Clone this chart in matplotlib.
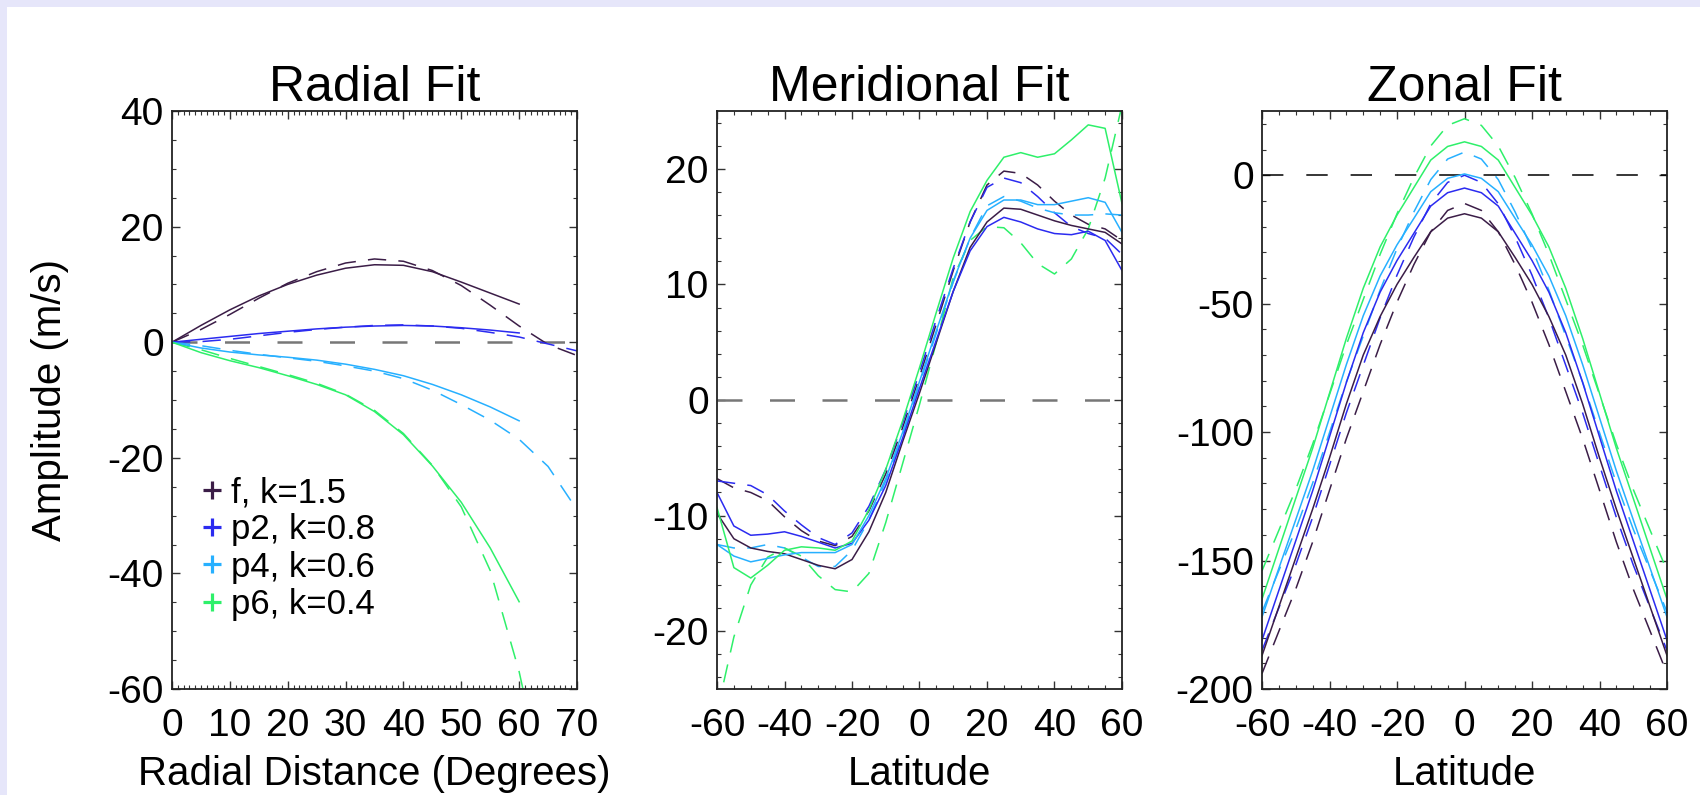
import numpy as np
import matplotlib
matplotlib.use("Agg")
import matplotlib.pyplot as plt
from matplotlib.lines import Line2D
from matplotlib.patches import Rectangle
from matplotlib.ticker import MultipleLocator

plt.rcParams["font.family"] = ["Liberation Sans", "DejaVu Sans"]
plt.rcParams["axes.unicode_minus"] = False

# --- data ------------------------------------------------------------------
mode_labels = ["f, k=1.5", "p2, k=0.8", "p4, k=0.6", "p6, k=0.4"]
mode_colors = ["#3b1d47", "#2b2bf0", "#27b0ff", "#2ef06a"]

# Radial fit: solid to 60 deg, dashed to 70 deg
rad_deg = [0, 5, 10, 15, 20, 25, 30, 35, 40, 45, 50, 55, 60]
rad_deg_ext = [0, 5, 10, 15, 20, 25, 30, 35, 40, 45, 50, 55, 60, 65, 70]
rad_f_solid = [0, 2.9, 5.6, 8.0, 10.0, 11.6, 12.8, 13.4, 13.3, 12.2, 10.4, 8.5, 6.6]
rad_p2_solid = [0, 0.5, 1.0, 1.5, 1.9, 2.3, 2.6, 2.8, 2.9, 2.8, 2.5, 2.1, 1.6]
rad_p4_solid = [0, -1.0, -1.7, -2.2, -2.6, -3.1, -3.8, -4.7, -5.8, -7.3, -9.1, -11.2, -13.6]
rad_p6_solid = [0, -1.8, -3.2, -4.4, -5.8, -7.3, -9.1, -12.0, -16.0, -21.4, -27.7, -35.6, -44.9]
rad_f_dashed = [0, 2.2, 4.8, 7.6, 10.2, 12.2, 13.7, 14.4, 14.0, 12.4, 9.8, 6.4, 2.8, -0.4, -2.3]
rad_p2_dashed = [0, 0.1, 0.5, 1.1, 1.7, 2.2, 2.6, 2.9, 3.0, 2.8, 2.4, 1.7, 0.9, -0.3, -1.5]
rad_p4_dashed = [0, -0.6, -1.4, -2.1, -2.7, -3.3, -4.1, -5.0, -6.3, -8.3, -10.8, -13.5, -16.8, -21.5, -29.0]
rad_p6_dashed = [0, -1.3, -2.8, -4.2, -5.6, -7.1, -9.0, -11.8, -15.8, -21.3, -28.5, -39.5, -57.0, -80.0, np.nan]

# Meridional fit
lat = [-60, -55, -50, -45, -40, -35, -30, -25, -20, -15, -10, -5, 0,
       5, 10, 15, 20, 25, 30, 35, 40, 45, 50, 55, 60]
mer_f_solid = [-9.8, -12.0, -12.8, -13.1, -13.3, -13.8, -14.3, -14.6, -13.8, -11.4, -8.0, -3.6, 0.6,
               5.0, 9.4, 13.2, 15.4, 16.6, 16.5, 16.0, 15.5, 15.1, 14.8, 14.5, 13.5]
mer_p2_solid = [-8.0, -10.9, -11.7, -11.6, -11.4, -11.8, -12.3, -12.8, -12.4, -10.4, -7.4, -3.3, 1.0,
                5.2, 9.4, 12.9, 15.0, 15.8, 15.4, 14.8, 14.4, 14.3, 14.6, 13.8, 11.2]
mer_p4_solid = [-12.5, -13.5, -14.0, -13.7, -13.4, -13.2, -13.2, -13.2, -12.5, -10.0, -6.8, -2.8, 1.6,
                6.0, 10.3, 14.0, 16.4, 17.3, 17.3, 16.9, 16.9, 17.2, 17.5, 17.1, 14.5]
mer_p6_solid = [-9.3, -14.5, -15.4, -14.3, -13.0, -12.7, -12.8, -13.0, -12.2, -9.5, -6.0, -1.8, 2.8,
                7.6, 12.3, 16.3, 19.0, 21.0, 21.4, 21.0, 21.3, 22.5, 23.8, 23.5, 17.0]
mer_f_dashed = [-6.8, -7.6, -8.0, -8.7, -10.1, -11.3, -12.2, -12.6, -11.8, -9.6, -6.4, -2.4, 2.0,
                6.6, 11.2, 15.4, 18.6, 19.8, 19.6, 18.6, 17.2, 16.0, 15.2, 14.8, 13.8]
mer_p2_dashed = [-7.0, -7.2, -7.4, -8.2, -9.6, -10.8, -11.9, -12.5, -11.5, -9.2, -6.0, -2.0, 2.4,
                 7.0, 11.4, 15.4, 18.4, 19.2, 18.8, 17.6, 16.2, 15.0, 14.4, 14.0, 12.6]
mer_p4_dashed = [-12.5, -12.8, -12.8, -12.5, -12.8, -13.6, -14.4, -14.4, -13.0, -10.4, -7.0, -3.0, 1.4,
                 5.8, 10.2, 14.0, 16.8, 17.6, 17.2, 16.6, 16.2, 16.0, 16.0, 16.1, 16.0]
mer_p6_dashed = [-27.0, -20.5, -16.0, -13.6, -12.8, -13.5, -15.2, -16.4, -16.6, -15.0, -10.6, -5.5, -0.4,
                 5.0, 10.6, 13.8, 15.0, 14.9, 13.6, 11.8, 10.9, 12.2, 14.8, 19.2, 25.5]

# Zonal fit
zon_f_solid = [-187, -168, -149, -130, -110, -89, -70, -55, -42.5, -32, -22, -16.7, -15,
               -16.7, -22, -32, -42.5, -55, -70, -89, -110, -130, -149, -168, -187]
zon_p2_solid = [-181, -161.6, -142.3, -122.9, -101.8, -80.7, -61.3, -45.5, -33.2, -22.6, -12, -6.8, -5,
                -6.8, -12, -22.6, -33.2, -45.5, -61.3, -80.7, -101.8, -122.9, -142.3, -161.6, -181]
zon_p4_solid = [-172, -153, -134.1, -115.1, -94.4, -73.7, -54.7, -39.2, -27.1, -16.8, -6.4, -1.2, 0.5,
                -1.2, -6.4, -16.8, -27.1, -39.2, -54.7, -73.7, -94.4, -115.1, -134.1, -153, -172]
zon_p6_solid = [-165, -145.4, -125.8, -106.3, -84.9, -63.5, -44, -27.9, -15.5, -4.8, 5.9, 11.2, 13,
                11.2, 5.9, -4.8, -15.5, -27.9, -44, -63.5, -84.9, -106.3, -125.8, -145.4, -165]
zon_f_dashed = [-194, -177.5, -161.1, -142.8, -122.6, -102.5, -84.2, -65.9, -49.4, -34.8, -22, -13.7, -11,
                -13.7, -22, -34.8, -49.4, -65.9, -84.2, -102.5, -122.6, -142.8, -161.1, -177.5, -194]
zon_p2_dashed = [-185, -168.4, -151.7, -133.2, -112.9, -92.5, -74, -55.5, -38.9, -24.1, -11.1, -2.8, 0,
                 -2.8, -11.1, -24.1, -38.9, -55.5, -74, -92.5, -112.9, -133.2, -151.7, -168.4, -185]
zon_p4_dashed = [-170, -153.9, -137.8, -119.9, -100.2, -80.5, -62.6, -44.7, -28.6, -14.3, -1.7, 6.3, 9,
                 6.3, -1.7, -14.3, -28.6, -44.7, -62.6, -80.5, -100.2, -119.9, -137.8, -153.9, -170]
zon_p6_dashed = [-154, -138.2, -122.3, -104.7, -85.4, -66, -48.4, -30.8, -15, -0.9, 11.4, 19.4, 22,
                 19.4, 11.4, -0.9, -15, -30.8, -48.4, -66, -85.4, -104.7, -122.3, -138.2, -154]

# --- style ------------------------------------------------------------------
TICK_FS = 28
LABEL_FS = 29
TITLE_FS = 36
LEGEND_FS = 25
SOLID_LW = 1.1
DASH_LW = 1.1
DASHES = (12, 8)


def style_axes(ax, xmaj, xmin, ymaj, ymin):
    ax.xaxis.set_major_locator(MultipleLocator(xmaj))
    ax.xaxis.set_minor_locator(MultipleLocator(xmin))
    ax.yaxis.set_major_locator(MultipleLocator(ymaj))
    ax.yaxis.set_minor_locator(MultipleLocator(ymin))
    ax.tick_params(which="both", direction="in", top=True, right=True,
                   labelsize=TICK_FS, color="#333333")
    ax.tick_params(which="major", length=6, width=1.0)
    ax.tick_params(which="minor", length=3, width=0.8)
    ax.tick_params(axis="x", which="major", pad=14)
    ax.tick_params(axis="y", which="major", pad=6)
    for sp in ax.spines.values():
        sp.set_linewidth(1.3)
        sp.set_color("#222222")


def draw_curves(ax, x_solid, solids, x_dashed, dasheds):
    for ys, c in zip(dasheds, mode_colors):
        ax.plot(x_dashed, ys, color=c, lw=DASH_LW, dashes=DASHES)
    for ys, c in zip(solids, mode_colors):
        ax.plot(x_solid, ys, color=c, lw=SOLID_LW)


fig = plt.figure(figsize=(17, 7.95), dpi=100)
fig.patch.set_facecolor("#e6e6fa")
fig.add_artist(Rectangle((7 / 1700, 0), 1, 1 - 7 / 795, transform=fig.transFigure,
                         facecolor="white", edgecolor="none", zorder=-1))

w, h, b = 405 / 1700, 578 / 795, 106 / 795
ax1 = fig.add_axes([172 / 1700, b, w, h])
ax2 = fig.add_axes([717 / 1700, b, w, h])
ax3 = fig.add_axes([1262 / 1700, b, w, h])

# Radial
ax1.axhline(0, color="#777777", lw=1.8, dashes=(10, 11))
draw_curves(ax1, rad_deg, [rad_f_solid, rad_p2_solid, rad_p4_solid, rad_p6_solid],
            rad_deg_ext, [rad_f_dashed, rad_p2_dashed, rad_p4_dashed, rad_p6_dashed])
ax1.set_xlim(0, 70)
ax1.set_ylim(-60, 40)
style_axes(ax1, 10, 1, 20, 5)
ax1.set_title("Radial Fit", fontsize=TITLE_FS, pad=6)
ax1.set_xlabel("Radial Distance (Degrees)", fontsize=LABEL_FS)
ax1.set_ylabel("Amplitude (m/s)", fontsize=LABEL_FS)
ax1.yaxis.set_label_coords(-0.255, 0.5)
handles = [Line2D([], [], marker="+", linestyle="none", color=c, markersize=13,
                  markeredgewidth=2.3) for c in mode_colors]
ax1.legend(handles, mode_labels, loc="upper left", bbox_to_anchor=(0.064, 0.368),
           frameon=False, fontsize=LEGEND_FS, handlelength=0.8, handletextpad=0.15,
           labelspacing=0.12, borderpad=0, borderaxespad=0)

# Meridional
ax2.axhline(0, color="#777777", lw=1.8, dashes=(10, 11))
draw_curves(ax2, lat, [mer_f_solid, mer_p2_solid, mer_p4_solid, mer_p6_solid],
            lat, [mer_f_dashed, mer_p2_dashed, mer_p4_dashed, mer_p6_dashed])
ax2.set_xlim(-60, 60)
ax2.set_ylim(-25, 25)
style_axes(ax2, 20, 5, 10, 2)
ax2.set_title("Meridional Fit", fontsize=TITLE_FS, pad=6)
ax2.set_xlabel("Latitude", fontsize=LABEL_FS)

# Zonal
ax3.axhline(0, color="black", lw=1.1, dashes=(14, 15))
draw_curves(ax3, lat, [zon_f_solid, zon_p2_solid, zon_p4_solid, zon_p6_solid],
            lat, [zon_f_dashed, zon_p2_dashed, zon_p4_dashed, zon_p6_dashed])
ax3.set_xlim(-60, 60)
ax3.set_ylim(-200, 25)
style_axes(ax3, 20, 5, 50, 10)
ax3.set_title("Zonal Fit", fontsize=TITLE_FS, pad=6)
ax3.set_xlabel("Latitude", fontsize=LABEL_FS)

for ax in (ax1, ax2, ax3):
    ax.xaxis.set_label_coords(0.5, -0.114)

fig.savefig("out.png", dpi=100, facecolor=fig.get_facecolor())
